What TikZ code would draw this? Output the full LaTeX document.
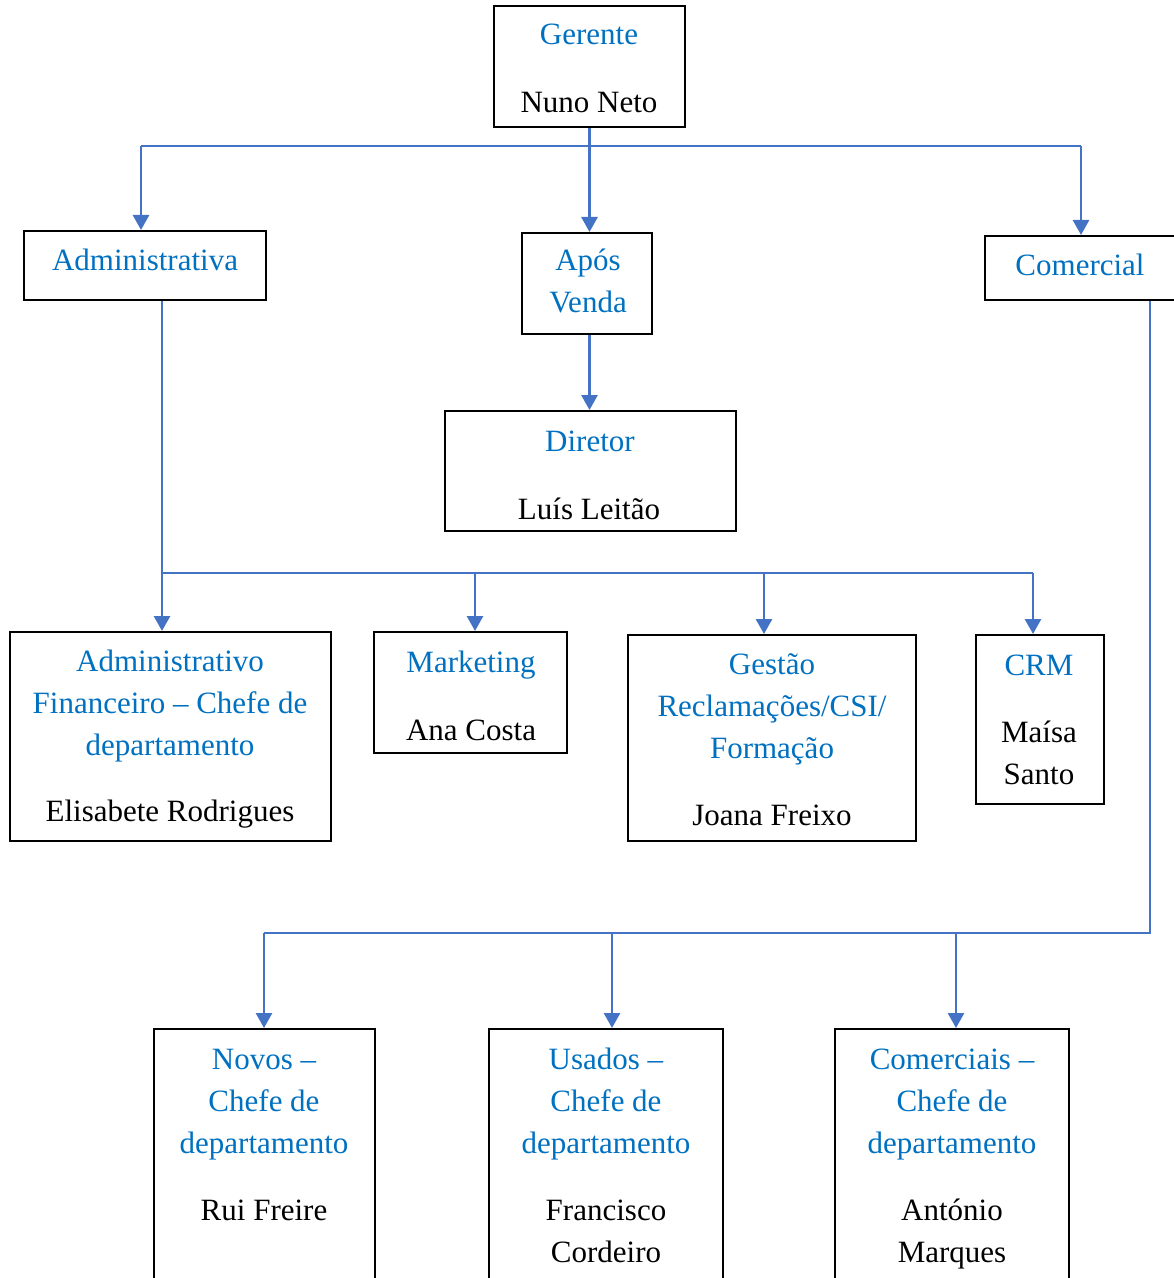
\documentclass[tikz,border=0pt]{standalone}
\usepackage{fontspec}
\setmainfont{Liberation Serif}
\usepackage{tikz}
\usetikzlibrary{arrows.meta}
\definecolor{titleblue}{HTML}{0070C0}
\definecolor{lineblue}{HTML}{4472C4}
\tikzstyle{box}=[rectangle, draw, line width=1pt, inner sep=0pt]
\tikzstyle{title}=[text=titleblue, align=center, anchor=base, inner sep=0pt]
\tikzstyle{person}=[text=black, align=center, anchor=base, inner sep=0pt]
\tikzstyle{link}=[draw=lineblue, line width=0.65pt]
\tikzstyle{arrow}=[draw=lineblue, line width=1.4pt, -{Triangle[width=8pt, length=7.5pt]}]

\begin{document}
\begin{tikzpicture}[x=0.5pt, y=-0.5pt, font=\fontsize{15.5}{21}\selectfont]
    \useasboundingbox (0,0) rectangle (1173,1278);
    % boxes
    \node[box, minimum width=95.5pt, minimum height=60.5pt] (ger) at (589.5, 66.5) {};
    \node[box, minimum width=121pt, minimum height=34.5pt] (adm) at (145, 265.5) {};
    \node[box, minimum width=65pt, minimum height=50.5pt] (apos) at (587, 283.5) {};
    \node[box, minimum width=97.5pt, minimum height=32pt] (com) at (1082.5, 268) {};
    \node[box, minimum width=145.5pt, minimum height=60pt] (dir) at (590.5, 471) {};
    \node[box, minimum width=160.5pt, minimum height=104.5pt] (fin) at (170.5, 736.5) {};
    \node[box, minimum width=96.5pt, minimum height=60.5pt] (mkt) at (470.5, 692.5) {};
    \node[box, minimum width=144pt, minimum height=103pt] (ges) at (772, 738) {};
    \node[box, minimum width=64pt, minimum height=84.5pt] (crm) at (1040, 719.5) {};
    \node[box, minimum width=110.5pt, minimum height=130.5pt] (nov) at (264.5, 1159.5) {};
    \node[box, minimum width=117pt, minimum height=130.5pt] (usa) at (606, 1159.5) {};
    \node[box, minimum width=117pt, minimum height=130.5pt] (cms) at (952, 1159.5) {};
    % texts (multi-line nodes sit on their last line)
    \node[title] (gert) at (589, 45) {Gerente};
    \node[person] (gern) at (589, 113) {Nuno Neto};
    \node[title] (admt) at (145, 271) {Administrativa};
    \node[title] (apost) at (588, 313) {Após\\Venda};
    \node[title] (comt) at (1080, 276) {Comercial};
    \node[title] (dirt) at (590, 451) {Diretor};
    \node[person] (dirn) at (589, 519) {Luís Leitão};
    \node[title] (fint) at (170, 755) {Administrativo\\Financeiro – Chefe de\\departamento};
    \node[person] (finn) at (170, 821) {Elisabete Rodrigues};
    \node[title] (mktt) at (471, 672) {Marketing};
    \node[person] (mktn) at (471, 740) {Ana Costa};
    \node[title] (gest) at (772, 758) {Gestão\\Reclamações/CSI/\\Formação};
    \node[person] (gesn) at (772, 825) {Joana Freixo};
    \node[title] (crmt) at (1039, 675) {CRM};
    \node[person] (crmn) at (1039, 784) {Maísa\\Santo};
    \node[title] (novt) at (264, 1153) {Novos –\\Chefe de\\departamento};
    \node[person] (novn) at (264, 1220) {Rui Freire};
    \node[title] (usat) at (606, 1153) {Usados –\\Chefe de\\departamento};
    \node[person] (usan) at (606, 1262) {Francisco\\Cordeiro};
    \node[title] (cmst) at (952, 1153) {Comerciais –\\Chefe de\\departamento};
    \node[person] (cmsn) at (952, 1262) {António\\Marques};
    % first level
    \coordinate (b1w) at (141, 146);
    \coordinate (b1e) at (1081, 146);
    \draw[link] (b1w) -- (b1e);
    \draw[arrow] (ger.south) -- (ger.south |- apos.north);
    \draw[arrow] (b1w) -- (b1w |- adm.north);
    \draw[arrow] (b1e) -- (b1e |- com.north);
    \draw[arrow] (ger.south |- apos.south) -- (ger.south |- dir.north);
    % administrativa
    \coordinate (b2w) at (162, 573);
    \coordinate (b2m) at (475, 573);
    \coordinate (b2g) at (764, 573);
    \coordinate (b2e) at (1033, 573);
    \draw[link] (b2w) -- (b2e);
    \draw[arrow] (b2w |- adm.south) -- (b2w |- fin.north);
    \draw[arrow] (b2m) -- (b2m |- mkt.north);
    \draw[arrow] (b2g) -- (b2g |- ges.north);
    \draw[arrow] (b2e) -- (b2e |- crm.north);
    % comercial
    \coordinate (b3e) at (1150, 933);
    \coordinate (b3w) at (264, 933);
    \coordinate (b3m) at (612, 933);
    \coordinate (b3c) at (956, 933);
    \draw[link] (b3e |- com.south) -- (b3e) -- (b3w);
    \draw[arrow] (b3w) -- (b3w |- nov.north);
    \draw[arrow] (b3m) -- (b3m |- usa.north);
    \draw[arrow] (b3c) -- (b3c |- cms.north);
\end{tikzpicture}
\end{document}
